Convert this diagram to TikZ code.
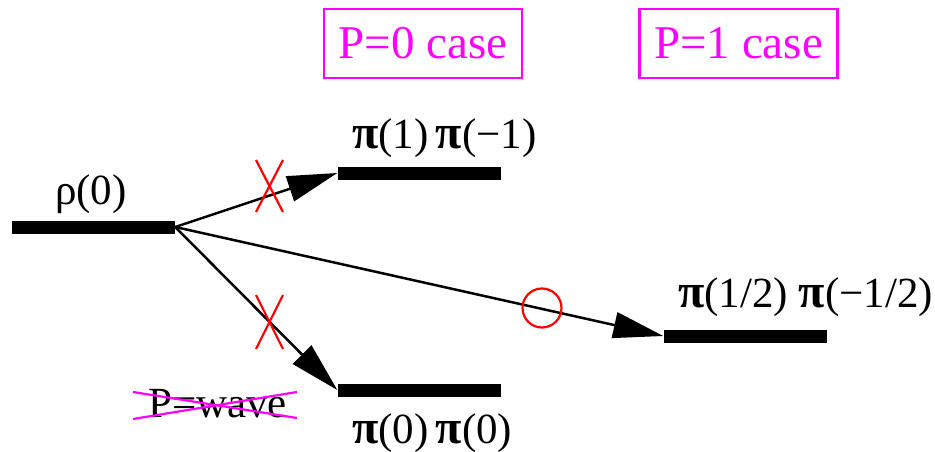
\documentclass[tikz,border=0pt]{standalone}
\usepackage{fontspec}
\setmainfont{Liberation Serif}
\usetikzlibrary{arrows.meta}
\definecolor{mag}{RGB}{255,0,255}
\newcommand\mypi{{\fontsize{48}{48}\selectfont\bfseries π}}
\begin{document}
\begin{tikzpicture}[x=1pt,y=-1pt,
  bar/.style={fill=black,draw=none,inner sep=0pt,minimum width=163pt,minimum height=13pt},
  lbl/.style={anchor=base west,inner sep=0pt,font=\fontsize{43}{43}\selectfont},
  casebox/.style={draw=mag,text=mag,line width=2.4pt,minimum width=198pt,minimum height=69pt,inner sep=0pt,font=\fontsize{47}{47}\selectfont},
  decay/.style={line width=2.5pt,-{Triangle[length=50pt,width=26pt]}},
  nogo/.style={red,line width=2.2pt},
  strike/.style={mag,line width=2.2pt}]
\useasboundingbox (0,0) rectangle (935,452);
% bars
\node[bar] (rho) at (93.5,227) {};
\node[bar] (pipm) at (419,173) {};
\node[bar] (pizero) at (419,390) {};
\node[bar] (pihalf) at (745,336) {};
% labels
\node[lbl] (lrho) at (55,204) {ρ(0)};
\node[lbl] (lpipm) at (352,148) {\mypi(1)\,\mypi(−1)};
\node[lbl] (lpizero) at (352,443) {\mypi(0)\,\mypi(0)};
\node[lbl] (lpihalf) at (678,307) {\mypi(1/2) \mypi(−1/2)};
\node[lbl] (lpw) at (148,417) {P=wave};
% case boxes
\node[casebox] (c0) at (423,43.5) {P=0 case};
\node[casebox] (c1) at (738.5,43.5) {P=1 case};
% arrows
\draw[decay] (rho.east) -- (pipm.west);
\draw[decay] (rho.east) -- (pizero.west);
\draw[decay] (rho.east) -- (pihalf.west);
% red crosses
\coordinate (xa1) at (256,160); \coordinate (xa2) at (283,212);
\coordinate (xa3) at (283,160); \coordinate (xa4) at (256,212);
\draw[nogo] (xa1) -- (xa2); \draw[nogo] (xa3) -- (xa4);
\coordinate (xb1) at (256,295); \coordinate (xb2) at (283,349);
\coordinate (xb3) at (283,295); \coordinate (xb4) at (256,349);
\draw[nogo] (xb1) -- (xb2); \draw[nogo] (xb3) -- (xb4);
\coordinate (ok) at (542,308);
\draw[nogo] (ok) circle[radius=19.5pt];
% P-wave strike
\coordinate (s1) at (133,392); \coordinate (s2) at (297,418);
\coordinate (s3) at (133,419); \coordinate (s4) at (297,392);
\draw[strike] (s1) -- (s2); \draw[strike] (s3) -- (s4);
\end{tikzpicture}
\end{document}
